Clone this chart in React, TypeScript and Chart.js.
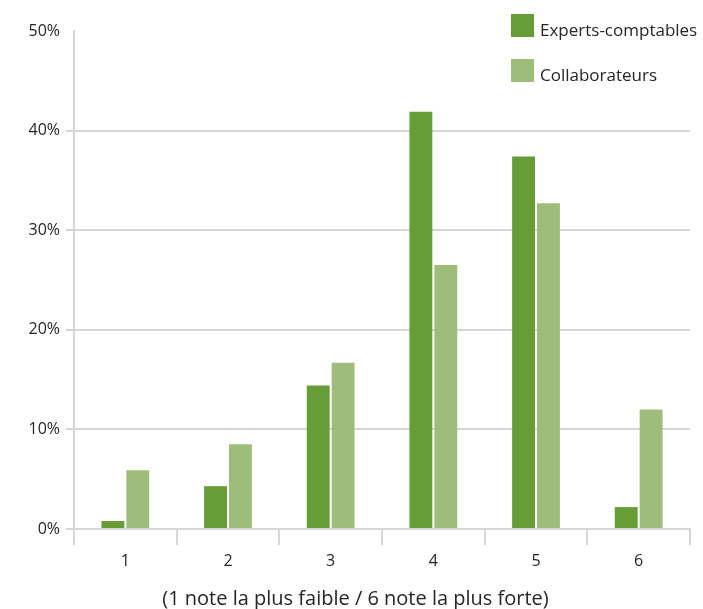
import React, { useEffect, useRef } from "react";
import { Chart, registerables } from "chart.js";

Chart.register(...registerables);

const categories = ["1", "2", "3", "4", "5", "6"];
const expertsComptables = [0.8, 4.3, 14.4, 41.9, 37.4, 2.2];
const collaborateurs = [5.9, 8.5, 16.7, 26.5, 32.7, 12.0];
const seriesLabels = ["Experts-comptables", "Collaborateurs"];
const seriesColors = ["#669d36", "#9ebd7b"];
const axisTitle = "(1 note la plus faible / 6 note la plus forte)";

const FONT = "'Open Sans', sans-serif";
const GRID = "#d6d6d6";
const TEXT = "#262626";

export default function App() {
  const canvasRef = useRef<HTMLCanvasElement | null>(null);

  useEffect(() => {
    if (!canvasRef.current) return;
    const chart = new Chart(canvasRef.current, {
      type: "bar",
      data: {
        labels: categories,
        datasets: [
          {
            label: seriesLabels[0],
            data: expertsComptables,
            backgroundColor: seriesColors[0],
            barPercentage: 0.92,
            categoryPercentage: 0.485,
          },
          {
            label: seriesLabels[1],
            data: collaborateurs,
            backgroundColor: seriesColors[1],
            barPercentage: 0.92,
            categoryPercentage: 0.485,
          },
        ],
      },
      options: {
        animation: false,
        responsive: false,
        maintainAspectRatio: false,
        layout: { padding: { left: 8, right: 0, top: 31, bottom: 0 } },
        plugins: {
          legend: { display: false },
          tooltip: { enabled: false },
          title: {
            display: true,
            position: "bottom",
            text: axisTitle,
            color: TEXT,
            font: { family: FONT, size: 20, weight: "normal", lineHeight: 1 },
            padding: { top: 0, bottom: 0 },
          },
        },
        scales: {
          x: {
            offset: true,
            grid: {
              offset: true,
              drawOnChartArea: false,
              drawTicks: true,
              tickLength: 16,
              color: GRID,
              lineWidth: 2,
            },
            border: { display: true, color: GRID, width: 2 },
            ticks: {
              color: TEXT,
              padding: 7,
              font: { family: FONT, size: 16 },
            },
            afterFit: (s: any) => {
              s.height = 60;
            },
          },
          y: {
            min: 0,
            max: 50,
            ticks: {
              stepSize: 10,
              color: TEXT,
              padding: 6,
              font: { family: FONT, size: 16 },
              callback: (v: any) => v + "%",
            },
            grid: {
              color: (ctx: any) =>
                ctx.tick && ctx.tick.value === 50 ? "rgba(0,0,0,0)" : GRID,
              lineWidth: 2,
              tickLength: 8,
            },
            border: { display: true, color: GRID, width: 2 },
            afterFit: (s: any) => {
              s.width = 66;
            },
          },
          // empty right-hand margin axis
          yRight: {
            position: "right",
            display: true,
            grid: { display: false, drawTicks: false },
            ticks: { display: false },
            border: { display: false },
            afterFit: (s: any) => {
              s.width = 13;
            },
          },
        },
      },
    });
    return () => chart.destroy();
  }, []);

  const legendItem = (i: number, top: number) => (
    <div
      key={i}
      style={{
        position: "absolute",
        left: 511,
        top,
        display: "flex",
        alignItems: "center",
        fontFamily: FONT,
        fontSize: 17,
        color: TEXT,
        whiteSpace: "nowrap",
      }}
    >
      <span
        style={{
          display: "inline-block",
          width: 23,
          height: 23,
          background: seriesColors[i],
          marginRight: 6,
        }}
      />
      <span style={{ position: "relative", top: 4 }}>{seriesLabels[i]}</span>
    </div>
  );

  return (
    <div
      style={{
        position: "absolute",
        left: 0,
        top: 0,
        width: 703,
        height: 609,
        background: "#fff",
      }}
    >
      <canvas ref={canvasRef} width={703} height={609} style={{ display: "block" }} />
      {legendItem(0, 14)}
      {legendItem(1, 59)}
    </div>
  );
}
